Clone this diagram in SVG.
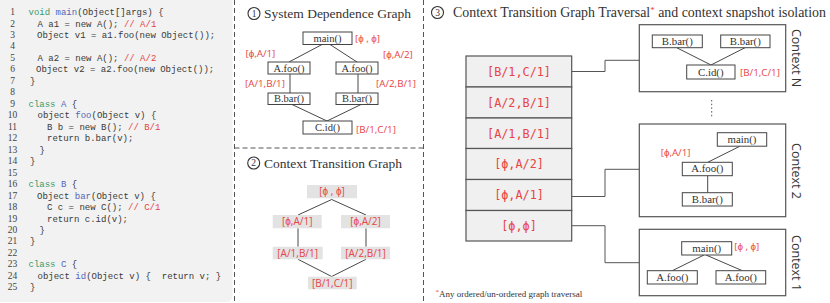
<svg xmlns="http://www.w3.org/2000/svg" width="830" height="303" viewBox="0 0 830 303">
<style>
.code{font-family:"Liberation Mono","DejaVu Sans Mono",monospace;font-size:9px;fill:#3a3a3a;white-space:pre}
.ln{font-family:"Liberation Serif",serif;font-size:9.5px;fill:#444;text-anchor:middle}
.kw{fill:#3d9a68}
.fn{fill:#5565bb}
.cm{fill:#e84444}
.title{font-family:"Liberation Serif",serif;font-size:13.5px;fill:#333}
.cnum{font-family:"Liberation Serif",serif;font-size:9.5px;fill:#333;text-anchor:middle}
.circ{fill:none;stroke:#333;stroke-width:1.1}
.nd{fill:#fff;stroke:#444;stroke-width:1}
.nt{font-family:"Liberation Serif",serif;font-size:10.5px;fill:#333;text-anchor:middle}
.nt2{font-family:"Liberation Serif",serif;font-size:10.8px;fill:#333;text-anchor:middle}
.red{font-family:"Open Sans","Liberation Sans",sans-serif;font-size:9.8px;fill:#e84444}
.ctg{fill:#e3e3e3}
.ctgt{font-family:"Open Sans","Liberation Sans",sans-serif;font-size:10px;fill:#e84444;text-anchor:middle}
.row{fill:#eff0ef;stroke:#555;stroke-width:1.2}
.rowt{font-family:"DejaVu Sans Mono","Liberation Mono",monospace;font-size:11.8px;fill:#e84444;text-anchor:middle}
.ctx{fill:#fff;stroke:#555;stroke-width:1.2}
.ctxl{font-family:"Open Sans","Liberation Sans",sans-serif;font-size:12.5px;fill:#333;text-anchor:middle}
.edge{fill:none;stroke:#333;stroke-width:0.9}
.conn{fill:none;stroke:#555;stroke-width:1}
.dash{fill:none;stroke:#555;stroke-width:1;stroke-dasharray:5 3}
.foot{font-family:"Liberation Serif",serif;font-size:9px;fill:#333}
</style>

<!-- code panel -->
<g id="code">
<rect x="-6" y="-6" width="238.5" height="308" rx="6" fill="#f1f2f1"/>
<text class="ln" x="12.5" y="15">1</text>
<text class="ln" x="12.5" y="26.5">2</text>
<text class="ln" x="12.5" y="37.9">3</text>
<text class="ln" x="12.5" y="49.4">4</text>
<text class="ln" x="12.5" y="60.9">5</text>
<text class="ln" x="12.5" y="72.4">6</text>
<text class="ln" x="12.5" y="83.8">7</text>
<text class="ln" x="12.5" y="95.3">8</text>
<text class="ln" x="12.5" y="106.8">9</text>
<text class="ln" x="12.5" y="118.2">10</text>
<text class="ln" x="12.5" y="129.7">11</text>
<text class="ln" x="12.5" y="141.2">12</text>
<text class="ln" x="12.5" y="152.6">13</text>
<text class="ln" x="12.5" y="164.1">14</text>
<text class="ln" x="12.5" y="175.6">15</text>
<text class="ln" x="12.5" y="187.1">16</text>
<text class="ln" x="12.5" y="198.5">17</text>
<text class="ln" x="12.5" y="210">18</text>
<text class="ln" x="12.5" y="221.5">19</text>
<text class="ln" x="12.5" y="232.9">20</text>
<text class="ln" x="12.5" y="244.4">21</text>
<text class="ln" x="12.5" y="255.9">22</text>
<text class="ln" x="12.5" y="267.3">23</text>
<text class="ln" x="12.5" y="278.8">24</text>
<text class="ln" x="12.5" y="290.3">25</text>

<text class="code" x="28.5" y="15" xml:space="preserve"><tspan class="kw">void</tspan> <tspan class="fn">main</tspan>(Object[]args) {</text>
<text class="code" x="37.5" y="26.5" xml:space="preserve">A a1 = new A(); <tspan class="cm">// A/1</tspan></text>
<text class="code" x="37" y="37.9" xml:space="preserve">Object v1 = a1.foo(new Object());</text>
<text class="code" x="37.5" y="60.9" xml:space="preserve">A a2 = new A(); <tspan class="cm">// A/2</tspan></text>
<text class="code" x="36" y="72.4" xml:space="preserve">Object v2 = a2.foo(new Object());</text>
<text class="code" x="30" y="83.8">}</text>
<text class="code" x="28.5" y="106.8" xml:space="preserve"><tspan class="kw">class</tspan> <tspan class="fn">A</tspan> {</text>
<text class="code" x="37.5" y="118.2" xml:space="preserve">object <tspan class="fn">foo</tspan>(Object v) {</text>
<text class="code" x="47" y="129.7" xml:space="preserve">B b = new B(); <tspan class="cm">// B/1</tspan></text>
<text class="code" x="47" y="141.2" xml:space="preserve">return b.bar(v);</text>
<text class="code" x="39.5" y="152.6">}</text>
<text class="code" x="30" y="164.1">}</text>
<text class="code" x="28.5" y="187.1" xml:space="preserve"><tspan class="kw">class</tspan> <tspan class="fn">B</tspan> {</text>
<text class="code" x="37" y="198.5" xml:space="preserve">Object <tspan class="fn">bar</tspan>(Object v) {</text>
<text class="code" x="47" y="210" xml:space="preserve">C c = new C(); <tspan class="cm">// C/1</tspan></text>
<text class="code" x="47" y="221.5" xml:space="preserve">return c.id(v);</text>
<text class="code" x="39.5" y="232.9">}</text>
<text class="code" x="30" y="244.4">}</text>
<text class="code" x="28.5" y="267.3" xml:space="preserve"><tspan class="kw">class</tspan> <tspan class="fn">C</tspan> {</text>
<text class="code" x="37.5" y="278.8" xml:space="preserve">object <tspan class="fn">id</tspan>(Object v) {  return v; }</text>
<text class="code" x="30" y="290.3">}</text>
</g>

<!-- panel separators -->
<g id="separators">
<line class="dash" x1="234.5" y1="0" x2="234.5" y2="303"/>
<line class="dash" x1="423.5" y1="0" x2="423.5" y2="303"/>
<line class="dash" x1="234.5" y1="148" x2="423.5" y2="148"/>
</g>

<!-- titles -->
<g id="title1">
<circle class="circ" cx="254" cy="13.5" r="6"/>
<text class="cnum" x="254" y="16.8">1</text>
<text class="title" x="264" y="17.5">System Dependence Graph</text>
</g>
<g id="title2">
<circle class="circ" cx="253.7" cy="163" r="6"/>
<text class="cnum" x="253.7" y="166.3">2</text>
<text class="title" x="264" y="167.7">Context Transition Graph</text>
</g>
<g id="title3">
<circle class="circ" cx="437.5" cy="12.5" r="6"/>
<text class="cnum" x="437.5" y="15.8">3</text>
<text class="title" x="453" y="16.7" style="font-size:13.9px">Context Transition Graph Traversal<tspan fill="#e84444" font-size="9" dy="-4">*</tspan><tspan dy="4"> and context snapshot isolation</tspan></text>
</g>

<!-- SDG connectors -->
<g id="sdg-edges">
<line class="edge" x1="322" y1="44.5" x2="289" y2="62"/>
<line class="edge" x1="330" y1="44.5" x2="357" y2="62"/>
<line class="edge" x1="290" y1="74" x2="290" y2="93"/>
<line class="edge" x1="358" y1="74" x2="358" y2="93"/>
<line class="edge" x1="292" y1="104.5" x2="327" y2="121"/>
<line class="edge" x1="361" y1="104.5" x2="327" y2="121"/>
</g>
<g id="sdg-main">
<rect class="nd" x="303" y="32" width="49" height="12.5"/>
<text class="nt" x="327.5" y="41.8">main()</text>
<text class="red" x="355" y="41.5">[ϕ , ϕ]</text>
</g>
<g id="sdg-afoo1">
<rect class="nd" x="268" y="62" width="42" height="12"/>
<text class="nt" x="289" y="71.5">A.foo()</text>
<text class="red" x="245.5" y="57.3">[ϕ,A/1]</text>
</g>
<g id="sdg-afoo2">
<rect class="nd" x="336" y="62" width="42" height="12"/>
<text class="nt" x="357" y="71.5">A.foo()</text>
<text class="red" x="383" y="57.8">[ϕ,A/2]</text>
</g>
<g id="sdg-bbar1">
<rect class="nd" x="268" y="93" width="42" height="11.5"/>
<text class="nt" x="289" y="102.3">B.bar()</text>
<text class="red" x="245" y="86.8">[A/1,B/1]</text>
</g>
<g id="sdg-bbar2">
<rect class="nd" x="336" y="93" width="42" height="11.5"/>
<text class="nt" x="357" y="102.3">B.bar()</text>
<text class="red" x="376" y="86.8">[A/2,B/1]</text>
</g>
<g id="sdg-cid">
<rect class="nd" x="303" y="121" width="49" height="13"/>
<text class="nt" x="327.5" y="130.8">C.id()</text>
<text class="red" x="356" y="132.5">[B/1,C/1]</text>
</g>

<!-- CTG -->
<g id="ctg-edges">
<line class="edge" x1="298" y1="215" x2="331.7" y2="199.5"/>
<line class="edge" x1="331.7" y1="199.5" x2="366" y2="215"/>
<line class="edge" x1="298" y1="228.3" x2="298" y2="246.7"/>
<line class="edge" x1="366" y1="228.3" x2="366" y2="246.7"/>
<line class="edge" x1="298" y1="259.3" x2="331.7" y2="276.5"/>
<line class="edge" x1="366" y1="259.3" x2="331.7" y2="276.5"/>
</g>
<g id="ctg-n0">
<rect class="ctg" x="307" y="185" width="50" height="13.3"/>
<text class="ctgt" x="332" y="195.2">[ϕ , ϕ]</text>
</g>
<g id="ctg-n1">
<rect class="ctg" x="272.7" y="215" width="49" height="13.3"/>
<text class="ctgt" x="297.2" y="225.2">[ϕ,A/1]</text>
</g>
<g id="ctg-n2">
<rect class="ctg" x="341" y="215" width="49" height="13.3"/>
<text class="ctgt" x="365.5" y="225.2">[ϕ,A/2]</text>
</g>
<g id="ctg-n3">
<rect class="ctg" x="272.7" y="246.7" width="50" height="12.6"/>
<text class="ctgt" x="297.7" y="256.6">[A/1,B/1]</text>
</g>
<g id="ctg-n4">
<rect class="ctg" x="341" y="246.7" width="49" height="12.6"/>
<text class="ctgt" x="365.5" y="256.6">[A/2,B/1]</text>
</g>
<g id="ctg-n5">
<rect class="ctg" x="308" y="276.7" width="48.7" height="12.6"/>
<text class="ctgt" x="332.3" y="286.6">[B/1,C/1]</text>
</g>

<!-- traversal stack connectors -->
<g id="stack-connectors">
<path class="conn" d="M571.7,71.5 H605 V60.3 H639.3"/>
<path class="conn" d="M571.7,196.5 H605 V169.3 H639.3"/>
<path class="conn" d="M571.7,225.7 H605 V262.7 H639.3"/>
</g>

<!-- stack -->
<g id="stack-row1">
<rect class="row" x="466" y="56" width="105.7" height="31"/>
<text class="rowt" x="519" y="75.8">[B/1,C/1]</text>
</g>
<g id="stack-row2">
<rect class="row" x="466" y="87" width="105.7" height="31"/>
<text class="rowt" x="519" y="106.8">[A/2,B/1]</text>
</g>
<g id="stack-row3">
<rect class="row" x="466" y="118" width="105.7" height="30.5"/>
<text class="rowt" x="519" y="137.6">[A/1,B/1]</text>
</g>
<g id="stack-row4">
<rect class="row" x="466" y="148.5" width="105.7" height="31"/>
<text class="rowt" x="519" y="168.3">[ϕ,A/2]</text>
</g>
<g id="stack-row5">
<rect class="row" x="466" y="179.5" width="105.7" height="31"/>
<text class="rowt" x="519" y="199.3">[ϕ,A/1]</text>
</g>
<g id="stack-row6">
<rect class="row" x="466" y="210.5" width="105.7" height="30.5"/>
<text class="rowt" x="519" y="230">[ϕ,ϕ]</text>
</g>

<!-- Context N -->
<g id="contextN">
<rect class="ctx" x="639.3" y="24.7" width="146.4" height="67"/>
<line class="edge" x1="676.7" y1="47.7" x2="711" y2="65"/>
<line class="edge" x1="745" y1="47.7" x2="711" y2="65"/>
<rect class="nd" x="652.3" y="35" width="50" height="12.7"/>
<text class="nt2" x="677.3" y="44.8">B.bar()</text>
<rect class="nd" x="720.7" y="35" width="49.3" height="12.7"/>
<text class="nt2" x="745.3" y="44.8">B.bar()</text>
<rect class="nd" x="686.7" y="65" width="48.3" height="14"/>
<text class="nt2" x="710.8" y="75.5">C.id()</text>
<text class="red" x="740" y="75.8">[B/1,C/1]</text>
<text class="ctxl" transform="translate(792,58) rotate(90)">Context N</text>
</g>

<line id="ellipsis" x1="711.7" y1="100" x2="711.7" y2="118.5" stroke="#555" stroke-width="1" stroke-dasharray="1.5 2.2"/>

<!-- Context 2 -->
<g id="context2">
<rect class="ctx" x="639.3" y="124" width="146.4" height="92.7"/>
<line class="edge" x1="740" y1="146.2" x2="707.7" y2="162.3"/>
<line class="edge" x1="707.7" y1="175.7" x2="707.7" y2="192.7"/>
<rect class="nd" x="717.3" y="132.7" width="49.4" height="13.5"/>
<text class="nt2" x="742" y="142.8">main()</text>
<rect class="nd" x="682.3" y="162.3" width="50" height="13.4"/>
<text class="nt2" x="707.3" y="172.4">A.foo()</text>
<rect class="nd" x="682.3" y="192.7" width="50" height="13.3"/>
<text class="nt2" x="707.3" y="202.8">B.bar()</text>
<text class="red" x="660.7" y="155.7">[ϕ,A/1]</text>
<text class="ctxl" transform="translate(792,171) rotate(90)">Context 2</text>
</g>

<!-- Context 1 -->
<g id="context1">
<rect class="ctx" x="639.3" y="229.3" width="146.4" height="66.4"/>
<line class="edge" x1="704" y1="255" x2="672.3" y2="270.7"/>
<line class="edge" x1="706" y1="255" x2="742.3" y2="270.7"/>
<rect class="nd" x="681.7" y="241.7" width="50" height="13.3"/>
<text class="nt2" x="706.7" y="251.8">main()</text>
<text class="red" x="734.3" y="249.8">[ϕ , ϕ]</text>
<rect class="nd" x="647.3" y="270.7" width="50" height="13.3"/>
<text class="nt2" x="672.3" y="280.8">A.foo()</text>
<rect class="nd" x="716" y="270.7" width="49.7" height="13.3"/>
<text class="nt2" x="740.8" y="280.8">A.foo()</text>
<text class="ctxl" transform="translate(792,263) rotate(90)">Context 1</text>
</g>

<!-- footnote -->
<text class="foot" x="435.5" y="297"><tspan fill="#e84444" font-size="7" dy="-3">*</tspan><tspan dy="3">Any ordered/un-ordered graph traversal</tspan></text>
</svg>
